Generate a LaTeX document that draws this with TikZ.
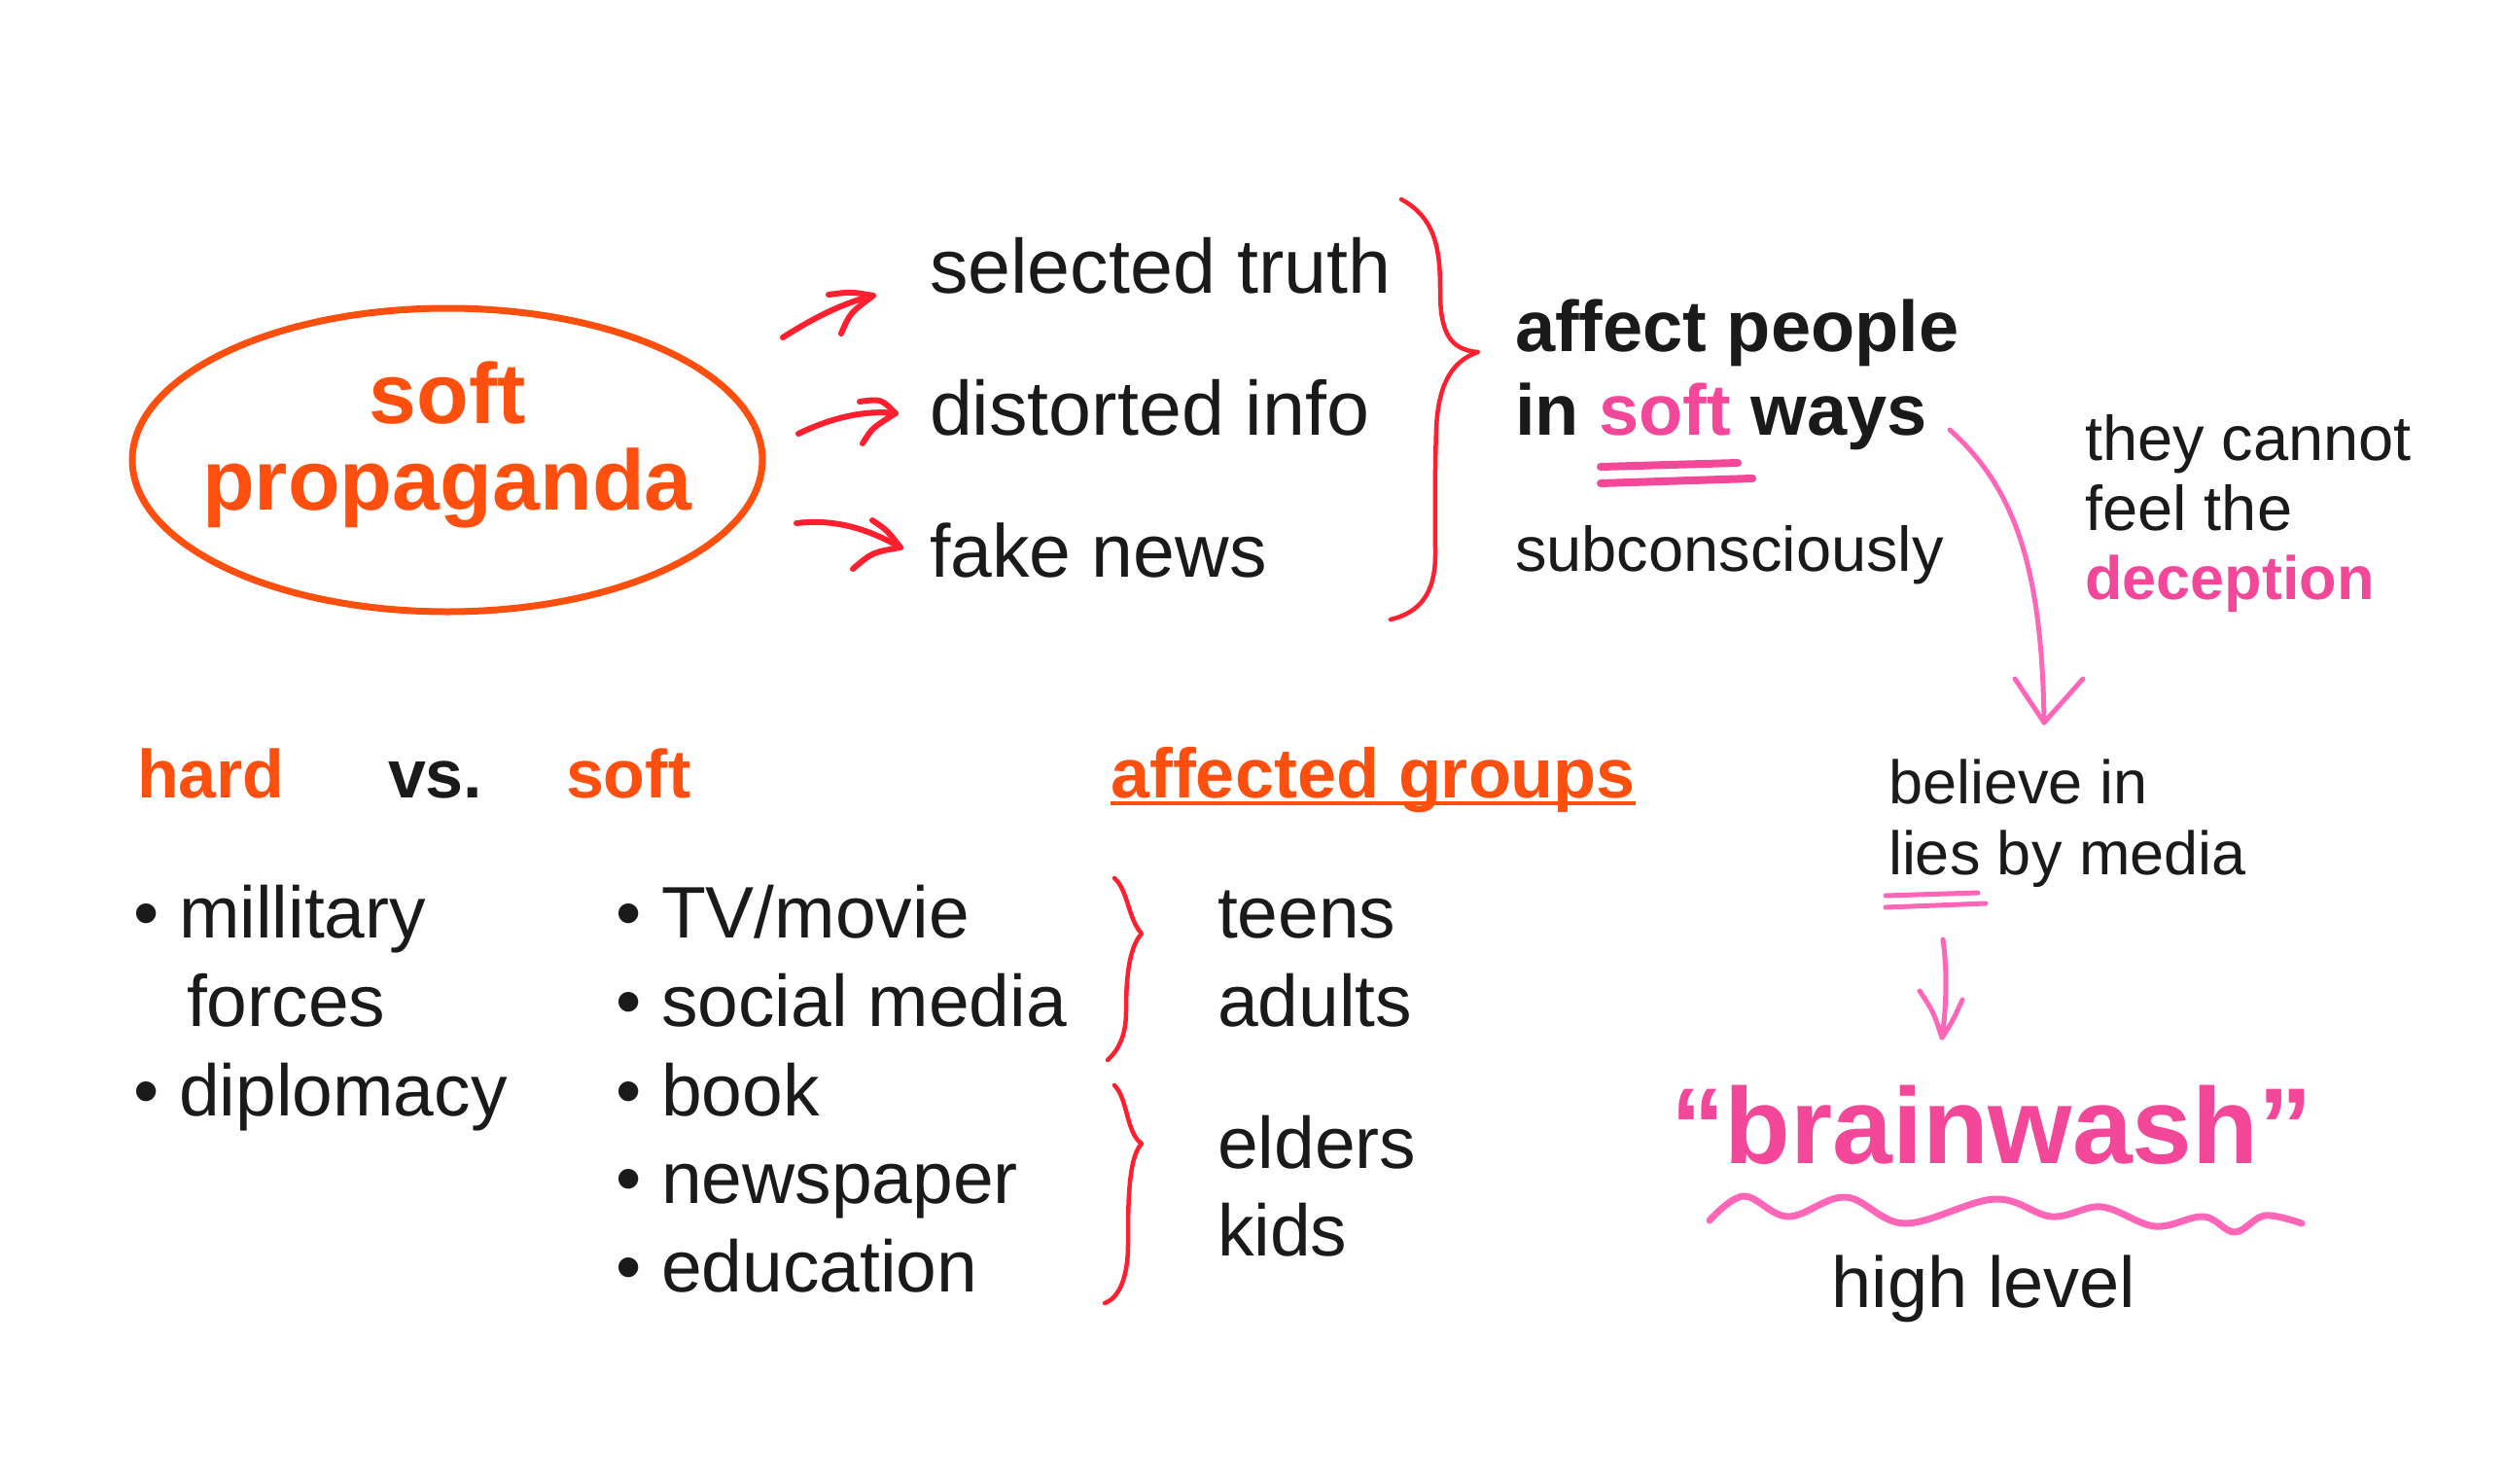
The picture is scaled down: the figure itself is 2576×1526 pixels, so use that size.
\documentclass[tikz,border=0pt]{standalone}
\usepackage{fontspec}
\setmainfont{Liberation Sans}
\usetikzlibrary{shapes.geometric}
\definecolor{orng}{HTML}{FF4F0F}
\definecolor{redc}{HTML}{FF1F2E}
\definecolor{pinkt}{HTML}{F3489A}
\definecolor{pinkl}{HTML}{FF66B8}
\definecolor{ink}{HTML}{1A1A1A}
\newcommand\fsz[1]{\fontsize{#1}{#1}\selectfont}
\begin{document}
\begin{tikzpicture}[x=1pt,y=-1pt,
  txt/.style={anchor=base west, inner sep=0pt, outer sep=0pt, text=ink},
  toptxt/.style={txt, font=\fsz{79}},
  boldtxt/.style={txt, font=\fsz{74}\bfseries},
  listtxt/.style={txt, font=\fsz{75}},
  smalltxt/.style={txt, font=\fsz{64}},
  headtxt/.style={txt, font=\fsz{70}\bfseries, text=orng},
  redstroke/.style={draw=redc, line width=6pt, line cap=round, line join=round},
  bracestroke/.style={draw=redc, line width=4.5pt, line cap=round, line join=round},
  pinkstroke/.style={draw=pinkl, line width=5pt, line cap=round, line join=round}]
\fill[white] (0,0) rectangle (2576,1526);
\useasboundingbox (0,0) rectangle (2576,1526);

% ellipse
\node (sp) [ellipse, draw=orng, line width=7pt, minimum width=648pt, minimum height=312pt, inner sep=0pt] at (460,473) {};
\node (sp1) [anchor=base, inner sep=0pt, text=orng, font=\fsz{88}\bfseries] at (460,435) {soft};
\node (sp2) [anchor=base, inner sep=0pt, text=orng, font=\fsz{88}\bfseries] at (460,524) {propaganda};

% top list
\node (st) [toptxt] at (956,301) {selected truth};
\node (di) [toptxt] at (956,447) {distorted info};
\node (fn) [toptxt, font=\fsz{77}] at (956,593) {fake news};

% red arrows
\coordinate (a1s) at (805,347); \coordinate (a1t) at (898,304);
\coordinate (a1u) at (852,303); \coordinate (a1l) at (865,343);
\draw[redstroke] (a1s) .. controls (835,328) and (865,312) .. (a1t);
\draw[redstroke] (a1u) .. controls (875,300) .. (a1t) .. controls (874,322) .. (a1l);

\coordinate (a2s) at (821,446); \coordinate (a2t) at (921,425);
\coordinate (a2u) at (884,413); \coordinate (a2l) at (887,456);
\draw[redstroke] (a2s) .. controls (850,432) and (885,421) .. (a2t);
\draw[redstroke] (a2u) .. controls (906,410) .. (a2t) .. controls (897,440) .. (a2l);

\coordinate (a3s) at (819,538); \coordinate (a3t) at (926,563);
\coordinate (a3u) at (897,535); \coordinate (a3l) at (877,585);
\draw[redstroke] (a3s) .. controls (860,533) and (895,545) .. (a3t);
\draw[redstroke] (a3u) .. controls (912,545) .. (a3t) .. controls (897,568) .. (a3l);

% big brace
\draw[bracestroke] (1441,205) .. controls (1478,225) and (1481,260) .. (1481,300)
  .. controls (1481,340) and (1490,360) .. (1520,362)
  .. controls (1490,372) and (1479,400) .. (1477,440)
  .. controls (1475,500) and (1476,540) .. (1476,570)
  .. controls (1476,610) and (1460,630) .. (1430,637);

% affect people
\node (ap) [boldtxt] at (1558,361) {affect people};
\node (isw) [boldtxt] at (1558,447) {in \textcolor{pinkt}{soft} ways};
\draw[draw=pinkt, line width=8pt, line cap=round] (1646,480) -- (1787,476);
\draw[draw=pinkt, line width=8pt, line cap=round] (1646,497) -- (1802,492);
\node (sub) [smalltxt, font=\fsz{65}] at (1558,587) {subconsciously};

% they cannot feel the deception
\node (tc1) [smalltxt, font=\fsz{65}] at (2144,473) {they cannot};
\node (tc2) [smalltxt, font=\fsz{65}] at (2144,545) {feel the};
\node (tc3) [smalltxt, text=pinkt, font=\fsz{63}\bfseries] at (2144,616) {deception};

% pink arrow 1
\coordinate (p1s) at (2005,442); \coordinate (p1t) at (2102,743);
\draw[pinkstroke] (p1s) .. controls (2070,500) and (2100,580) .. (p1t);
\draw[pinkstroke] (2072,698) -- (p1t) -- (2142,698);

% believe in lies
\node (bl1) [smalltxt, font=\fsz{63}] at (1942,826) {believe in};
\node (bl2) [smalltxt, font=\fsz{63}] at (1942,899) {lies by media};
\draw[pinkstroke] (1939,921) -- (2034,918);
\draw[pinkstroke] (1939,933) -- (2042,929);

% pink arrow 2
\coordinate (p2s) at (1998,966); \coordinate (p2t) at (1997,1067);
\draw[pinkstroke] (p2s) .. controls (2003,1000) and (2001,1040) .. (p2t);
\draw[pinkstroke] (1974,1019) .. controls (1988,1040) .. (p2t) .. controls (2008,1050) .. (2018,1028);

% brainwash
\node (bw) [anchor=base, inner sep=0pt, text=pinkt, font=\fsz{111}\bfseries] at (2048,1196) {“brainwash”};
\draw[draw=pinkl, line width=7pt, line cap=round, line join=round] plot[smooth, tension=0.6] coordinates {
 (1758,1255) (1793,1230) (1839,1251) (1898,1231) (1959,1258) (2051,1233) (2110,1251)
 (2161,1241) (2216,1261) (2266,1251) (2298,1267) (2329,1250) (2367,1258)};
\node (hl) [anchor=base, inner sep=0pt, text=ink, font=\fsz{74}] at (2040,1344) {high level};

% hard vs soft
\node (hd) [headtxt] at (141,820) {hard};
\node (vs) [headtxt, text=ink] at (399,820) {vs.};
\node (sf) [headtxt] at (582,820) {soft};
\node (ag) [headtxt, font=\fsz{72}\bfseries] at (1142,820) {affected groups};
\draw[draw=orng, line width=4pt] ([yshift=-6pt]ag.base west) -- ([yshift=-6pt]ag.base east);

% hard list
\node (h1) [listtxt] at (137,964) {•\ millitary};
\node (h2) [listtxt] at (192,1055) {forces};
\node (h3) [listtxt] at (137,1147) {•\ diplomacy};

% soft list
\node (s1) [listtxt] at (633,964) {•\ TV/movie};
\node (s2) [listtxt] at (633,1055) {•\ social media};
\node (s3) [listtxt] at (633,1147) {•\ book};
\node (s4) [listtxt] at (633,1237) {•\ newspaper};
\node (s5) [listtxt] at (633,1328) {•\ education};

% braces small
\draw[bracestroke] (1146,903) .. controls (1160,915) and (1160,945) .. (1174,960)
  .. controls (1160,975) and (1158,1010) .. (1158,1040)
  .. controls (1158,1065) and (1150,1080) .. (1139,1090);
\draw[bracestroke] (1146,1116) .. controls (1160,1130) and (1158,1165) .. (1174,1176)
  .. controls (1160,1190) and (1160,1240) .. (1160,1280)
  .. controls (1160,1315) and (1150,1335) .. (1136,1340);

% groups
\node (g1) [listtxt] at (1252,964) {teens};
\node (g2) [listtxt] at (1252,1055) {adults};
\node (g3) [listtxt] at (1252,1201) {elders};
\node (g4) [listtxt] at (1252,1291) {kids};
\end{tikzpicture}
\end{document}
